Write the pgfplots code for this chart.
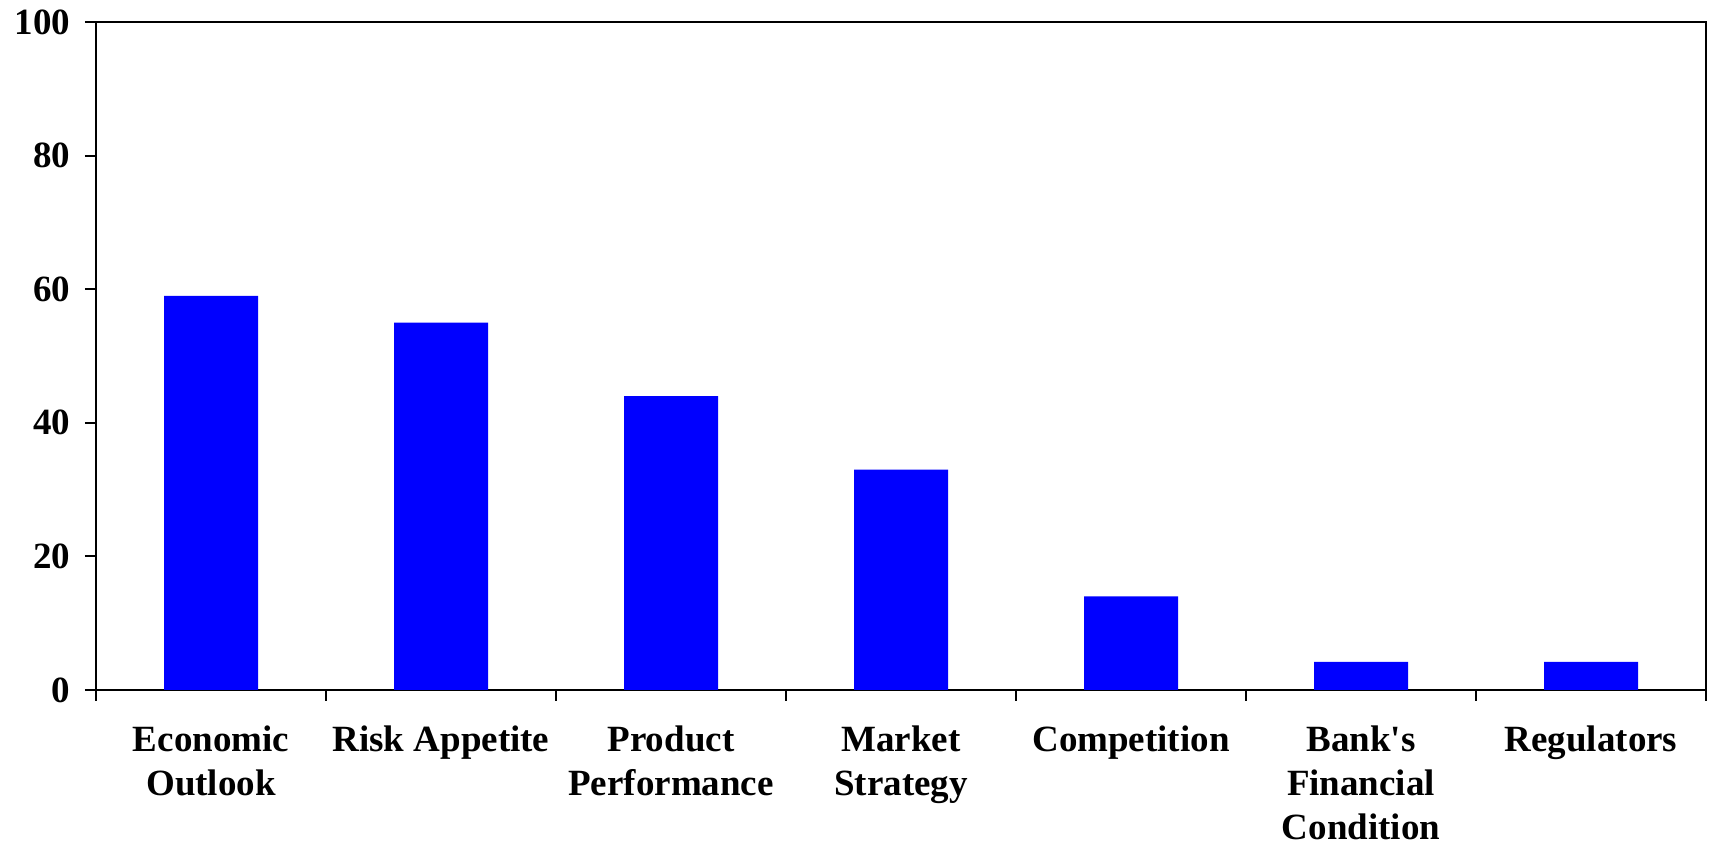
\documentclass[border=0pt]{standalone}
\usepackage{pgfplots}
\pgfplotsset{compat=1.18}
\usepackage{fontspec}
\setmainfont{Liberation Serif}
\definecolor{barblue}{RGB}{0,0,255}
\begin{document}
\begin{tikzpicture}
\begin{axis}[
  name=ax,
  scale only axis,
  width=805pt, height=334pt,
  xmin=-0.5, xmax=6.5,
  ymin=0, ymax=100,
  ytick={0,20,...,100},
  xtick={0,1,2,3,4,5,6},
  xticklabels={{Economic\\Outlook},{Risk Appetite},{Product\\Performance},{Market\\Strategy},{Competition},{Bank\textquotesingle s\\Financial\\Condition},{Regulators}},
  minor xtick={-0.5,0.5,...,6.5},
  major x tick style={draw=none},
  tick align=outside,
  xtick pos=bottom, ytick pos=left,
  major tick length=5.5pt,
  minor tick length=5.5pt,
  every tick/.style={black, line width=1pt},
  axis line style={black, line width=1pt},
  /pgf/number format/assume math mode=true,
  ticklabel style={font=\bfseries\fontsize{18.5}{22}\selectfont},
  xticklabel style={align=center, anchor=north, yshift=-10pt, inner sep=2pt},
  yticklabel style={xshift=-3.8pt},
  ybar, bar width=47pt,
]
\addplot[fill=barblue, draw=none] coordinates {(0,59) (1,55) (2,44) (3,33) (4,14) (5,4.2) (6,4.2)};
\end{axis}
\pgfresetboundingbox
\path[use as bounding box] ([shift={(-48pt,-79.5pt)}]ax.south west) rectangle ([shift={(2pt,11pt)}]ax.north east);
\end{tikzpicture}
\end{document}
